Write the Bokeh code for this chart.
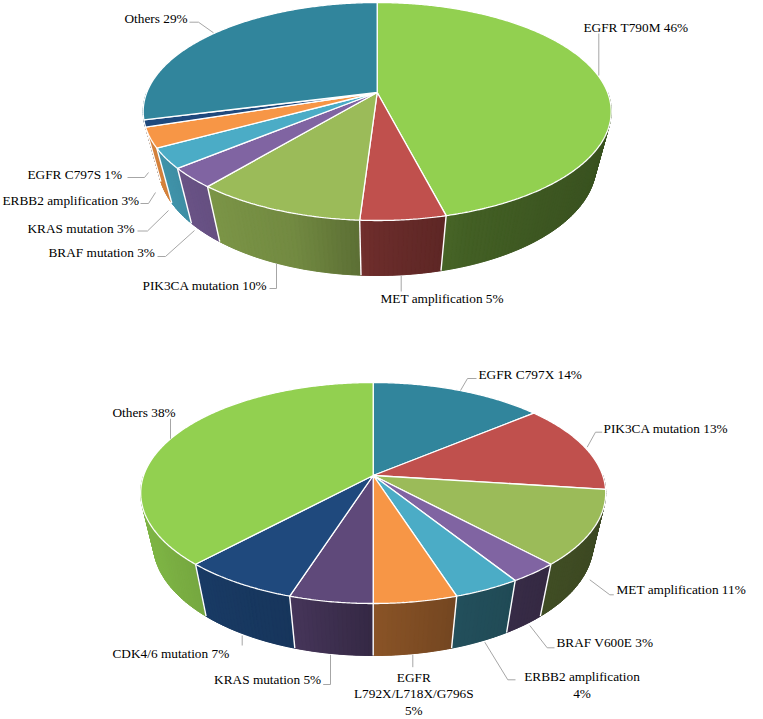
import numpy as np
from bokeh.plotting import figure
from bokeh.models import Range1d
from bokeh.core.properties import value
from bokeh.embed import file_html
from bokeh.resources import INLINE

# ---------------- data ----------------
pie1_names = ["EGFR T790M", "MET amplification", "PIK3CA mutation", "BRAF mutation",
              "KRAS mutation", "ERBB2 amplification", "EGFR C797S", "Others"]
pie1_values = [46, 5, 10, 3, 3, 3, 1, 29]
pie1_colors = ["#92D050", "#C0504D", "#9BBB59", "#8064A2",
               "#4BACC6", "#F79646", "#1F497D", "#31859C"]

pie2_names = ["EGFR C797X", "PIK3CA mutation", "MET amplification", "BRAF V600E",
              "ERBB2 amplification", "EGFR L792X/L718X/G796S", "KRAS mutation",
              "CDK4/6 mutation", "Others"]
pie2_values = [14, 13, 11, 3, 4, 5, 5, 7, 38]
pie2_colors = ["#31859C", "#C0504D", "#9BBB59", "#8064A2",
               "#4BACC6", "#F79646", "#5F497A", "#1F497D", "#92D050"]

# ---------------- layout (screen pixels) ----------------
pie1_geom = dict(cx=376.7, apex_y=92, rx=234, back=90, front=128, depth=55)
pie2_geom = dict(cx=372.7, apex_y=475, rx=232.5, back=93, front=128, depth=52)

# label layout: (x, y, align, split mode, line gap, leader points)
pie1_labels = [
    (583, 27, "left", None, 0, [(598.3, 33), (598.3, 75)]),
    (380, 298, "left", None, 0, [(400.7, 275), (400.7, 291)]),
    (142, 285, "left", None, 0, [(269, 288), (276, 288), (276, 263)]),
    (48, 252, "left", None, 0, [(157, 256), (165, 256), (194, 230)]),
    (27, 227.5, "left", None, 0, [(137, 230.5), (147, 230.5), (168, 210)]),
    (2, 200, "left", None, 0, [(140, 203), (148, 203), (155, 192)]),
    (27, 174, "left", None, 0, [(127, 177), (144, 177), (148, 172)]),
    (124, 18, "left", None, 0, [(189, 21.7), (198, 21.7), (213, 32.3)]),
]
pie2_labels = [
    (478, 374, "left", None, 0, [(476, 378), (467, 378), (460, 390)]),
    (603, 428.3, "left", None, 0, [(601.7, 431.7), (595, 431.7), (586.7, 446.7)]),
    (616, 589.3, "left", None, 0, [(613.3, 594.3), (609.3, 594.3), (589.3, 579.3)]),
    (556, 641.7, "left", None, 0, [(554, 647.3), (546.7, 647.3), (529.3, 625)]),
    (581.5, 676, "center", "name", 17.3, [(515, 679.3), (507.3, 679.3), (484.3, 641.7)]),
    (413.3, 677, "center", "words", 16.3, [(412.3, 654.3), (412.3, 666.7)]),
    (320.7, 679.3, "right", None, 0, [(322.7, 684), (330, 684), (330, 654.3)]),
    (112, 653.3, "left", None, 0, [(241.7, 635), (241.7, 645)]),
    (112, 411.7, "left", None, 0, [(170, 418.3), (170, 438.3)]),
]

# side shading as a function of angle (degrees, clockwise from 12 o'clock)
shade_ang = [90, 100, 140, 160, 180, 198, 220, 240, 270]
shade_fac = [0.37, 0.38, 0.42, 0.46, 0.56, 0.74, 0.80, 0.86, 0.88]

FONT = value("Liberation Serif")
FSIZE = "13.3px"

W, H = 763, 719


def shade(hex_color, f):
    h = hex_color.lstrip("#")
    r, g, b = (int(h[i:i + 2], 16) for i in (0, 2, 4))
    return "#%02x%02x%02x" % (int(r * f), int(g * f), int(b * f))


def make_projector(cx, apex_y, rx, back, front, depth, elev_deg=40.0):
    e = np.radians(elev_deg)
    c, s = np.cos(e), np.sin(e)
    r = front / back
    D = c * (r + 1) / (r - 1)

    def raw(X, Y, Z):
        d = D - Y * c - Z * s
        return X / d, (Z * c - Y * s) / d

    th = np.radians(np.linspace(0, 360, 3601))
    sx, _ = raw(np.sin(th), -np.cos(th), 0 * th)
    kx = rx / np.max(np.abs(sx))
    _, syb = raw(0.0, -1.0, 0.0)
    ky = back / syb
    _, syf = raw(0.0, 1.0, 0.0)
    lo, hi = 0.0, 3.0
    for _ in range(60):
        h = (lo + hi) / 2
        _, syh = raw(0.0, 1.0, -h)
        if (syf - syh) * ky < depth:
            lo = h
        else:
            hi = h
    h = (lo + hi) / 2

    def proj(theta_deg, z):
        t = np.radians(np.asarray(theta_deg, dtype=float))
        X, Y = np.sin(t), -np.cos(t)
        a, b = raw(X, Y, -h * z)
        return cx + a * kx, apex_y - b * ky

    def visible(theta_deg):
        return np.cos(np.radians(theta_deg)) < -1.0 / (D * c)

    return proj, visible


def draw_pie(p, values, colors, geom):
    proj, visible = make_projector(**geom)
    total = float(sum(values))
    bounds = np.cumsum([0] + list(values)) / total * 360.0

    # side: base band per slice, then shaded strips
    base_x, base_y, base_c = [], [], []
    strips = []
    for i, (a0, a1) in enumerate(zip(bounds[:-1], bounds[1:])):
        lo, hi = max(a0, 90.0), min(a1, 270.0)
        if lo >= hi:
            continue
        n = max(1, int(np.ceil((hi - lo) / 1.0)))
        edges = np.linspace(lo, hi, n + 1)
        xt, yt = proj(edges, 0)
        xb, yb = proj(edges[::-1], 1)
        base_x.append(list(map(float, xt)) + list(map(float, xb)))
        base_y.append(list(map(float, yt)) + list(map(float, yb)))
        base_c.append(shade(colors[i], float(np.interp(0.5 * (lo + hi), shade_ang, shade_fac))))
        for e0, e1 in zip(edges[:-1], edges[1:]):
            xt0, yt0 = proj(e0, 0)
            xt1, yt1 = proj(e1, 0)
            xb1, yb1 = proj(e1, 1)
            xb0, yb0 = proj(e0, 1)
            mid = 0.5 * (e0 + e1)
            col = shade(colors[i], float(np.interp(mid, shade_ang, shade_fac)))
            strips.append((abs(mid - 180), [xt0, xt1, xb1, xb0], [yt0, yt1, yb1, yb0], col))
    p.patches(base_x, base_y, fill_color=base_c, line_color=base_c, line_width=0.5)
    strips.sort(key=lambda t: -t[0])
    p.patches([s_[1] for s_ in strips], [s_[2] for s_ in strips],
              fill_color=[s_[3] for s_ in strips], line_color=[s_[3] for s_ in strips],
              line_width=0.9)

    # side boundaries
    bx, by = [], []
    for a in bounds:
        a_mod = a % 360
        if 90 < a_mod < 270 and visible(a_mod):
            x0, y0 = proj(a_mod, 0)
            x1, y1 = proj(a_mod, 1)
            bx.append([float(x0), float(x1)])
            by.append([float(y0), float(y1)])
    if bx:
        p.multi_line(bx, by, line_color="white", line_width=1.4)

    # top faces
    tx, ty = [], []
    apex = (geom["cx"], geom["apex_y"])
    for a0, a1 in zip(bounds[:-1], bounds[1:]):
        n = max(2, int(np.ceil((a1 - a0) / 0.5)))
        arc = np.linspace(a0, a1, n + 1)
        x, y = proj(arc, 0)
        tx.append([apex[0]] + list(map(float, x)))
        ty.append([apex[1]] + list(map(float, y)))
    p.patches(tx, ty, fill_color=list(colors), line_color="white", line_width=1.3)


def draw_labels(p, names, values, layout):
    for name, v, (x, y, align, split, gap, leader) in zip(names, values, layout):
        if split is None:
            lines = [f"{name} {v}%"]
        elif split == "name":
            lines = [name, f"{v}%"]
        else:
            lines = name.split(" ") + [f"{v}%"]
        for k, line in enumerate(lines):
            p.text(x=[x], y=[y + k * gap], text=[line], text_font=FONT,
                   text_font_size=FSIZE, text_color="black", text_align=align,
                   text_baseline="middle")
        p.line([q[0] for q in leader], [q[1] for q in leader],
               line_color="#A6A6A6", line_width=1)


p = figure(width=W, height=H, x_range=Range1d(0, W), y_range=Range1d(H, 0),
           output_backend="svg", toolbar_location=None, x_axis_type=None,
           y_axis_type=None, min_border=0, outline_line_color=None)
p.xgrid.visible = False
p.ygrid.visible = False
p.background_fill_color = "white"

draw_pie(p, pie1_values, pie1_colors, pie1_geom)
draw_pie(p, pie2_values, pie2_colors, pie2_geom)
draw_labels(p, pie1_names, pie1_values, pie1_labels)
draw_labels(p, pie2_names, pie2_values, pie2_labels)

open("out.html", "w").write(file_html(p, INLINE))
